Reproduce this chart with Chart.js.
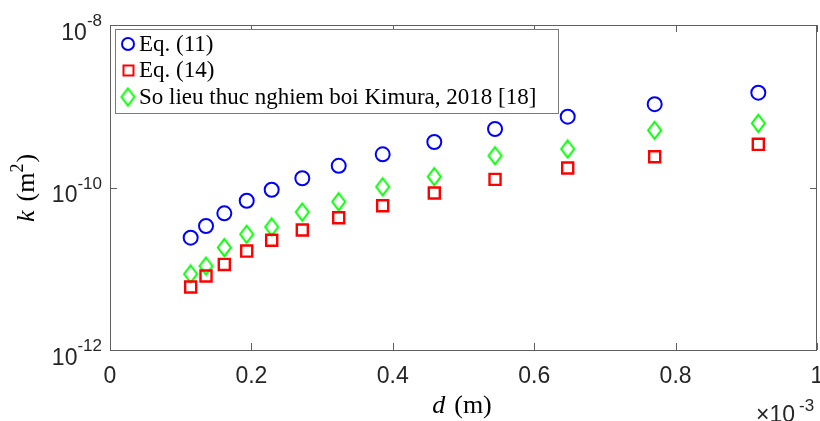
<!DOCTYPE html>
<html>
<head>
<meta charset="utf-8">
<script src="https://cdn.jsdelivr.net/npm/chart.js@4"></script>
<style>
  html, body { margin: 0; padding: 0; background: #fff; }
  #wrap { width: 820px; height: 421px; position: relative; }
</style>
</head>
<body>
<div id="wrap"><canvas id="c" width="820" height="421"></canvas></div>
<script>
// particle size d (m)
const dValues = [1.141e-4, 1.358e-4, 1.617e-4, 1.934e-4, 2.287e-4, 2.720e-4, 3.235e-4,
  3.857e-4, 4.587e-4, 5.446e-4, 6.474e-4, 7.704e-4, 9.170e-4];
// permeability k (m^2)
const kEq11 = [2.41e-11, 3.36e-11, 4.81e-11, 6.87e-11, 9.39e-11, 1.30e-10, 1.85e-10,
  2.56e-10, 3.63e-10, 5.25e-10, 7.44e-10, 1.06e-9, 1.47e-9];
const kEq14 = [5.96e-12, 8.14e-12, 1.13e-11, 1.65e-11, 2.24e-11, 3.00e-11, 4.25e-11,
  5.97e-11, 8.55e-11, 1.26e-10, 1.74e-10, 2.39e-10, 3.40e-10];
const kKimura = [8.62e-12, 1.08e-11, 1.82e-11, 2.66e-11, 3.27e-11, 4.99e-11, 6.68e-11,
  1.02e-10, 1.36e-10, 2.46e-10, 2.98e-10, 5.06e-10, 6.17e-10];

const seriesNames = ["Eq. (11)", "Eq. (14)", "So lieu thuc nghiem boi Kimura, 2018 [18]"];
const xTickVals = [0, 2e-4, 4e-4, 6e-4, 8e-4, 1e-3];
const xTickLabels = ["0", "0.2", "0.4", "0.6", "0.8", "1"];
const yTickVals = [1e-12, 1e-10, 1e-8];
const yTickExps = ["-12", "-10", "-8"];

const BLUE = "#0000ff", RED = "#ff0000", GREEN = "#00ff00";
const AXIS = "#5f5f5f", TXT = "#262626";
const SANS = "'Liberation Sans', Arial, sans-serif";
const SERIF = "'Liberation Serif', 'Times New Roman', serif";

function diamondCanvas(w, h, color, lw) {
  const cv = document.createElement("canvas");
  cv.width = w + 4; cv.height = h + 4;
  const g = cv.getContext("2d");
  g.strokeStyle = color; g.lineWidth = lw;
  const cx = cv.width / 2, cy = cv.height / 2;
  g.beginPath();
  g.moveTo(cx, cy - h / 2); g.lineTo(cx + w / 2, cy);
  g.lineTo(cx, cy + h / 2); g.lineTo(cx - w / 2, cy);
  g.closePath(); g.stroke();
  return cv;
}
const diamond = diamondCanvas(13, 17, GREEN, 2);

const pts = (ys) => dValues.map((d, i) => ({ x: d, y: ys[i] }));

const decor = {
  id: "decor",
  afterDraw(chart) {
    const ctx = chart.ctx, a = chart.chartArea;
    const xs = chart.scales.x, ys = chart.scales.y;
    ctx.save();
    // box
    ctx.strokeStyle = AXIS; ctx.lineWidth = 1;
    ctx.strokeRect(Math.round(a.left) + 0.5, Math.round(a.top) + 0.5,
      Math.round(a.right - a.left) - 1, Math.round(a.bottom - a.top));
    // ticks, inward on all four sides
    ctx.beginPath();
    xTickVals.forEach((v) => {
      const px = Math.round(xs.getPixelForValue(v)) + 0.5;
      ctx.moveTo(px, a.bottom); ctx.lineTo(px, a.bottom - 7);
      ctx.moveTo(px, a.top); ctx.lineTo(px, a.top + 7);
    });
    yTickVals.forEach((v) => {
      const py = Math.round(ys.getPixelForValue(v)) + 0.5;
      ctx.moveTo(a.left, py); ctx.lineTo(a.left + 7, py);
      ctx.moveTo(a.right, py); ctx.lineTo(a.right - 7, py);
    });
    ctx.stroke();

    // x tick labels
    ctx.fillStyle = TXT;
    ctx.font = "23px " + SANS;
    ctx.textAlign = "center"; ctx.textBaseline = "alphabetic";
    xTickVals.forEach((v, i) => {
      ctx.fillText(xTickLabels[i], xs.getPixelForValue(v), 383);
    });
    // y tick labels 10^n
    yTickVals.forEach((v, i) => {
      const py = ys.getPixelForValue(v);
      ctx.textAlign = "right";
      ctx.font = "17px " + SANS;
      const ew = ctx.measureText(yTickExps[i]).width;
      ctx.fillText(yTickExps[i], 102, py + 1);
      ctx.font = "23px " + SANS;
      ctx.fillText("10", 102 - ew, py + 14.5);
    });
    // x10^-3 multiplier
    ctx.textAlign = "left";
    ctx.font = "23px " + SANS;
    ctx.fillText("\u00d710", 756, 422);
    ctx.font = "17px " + SANS;
    ctx.fillText("-3", 799, 411);

    // x title: d (m)
    ctx.fillStyle = "#000";
    ctx.font = "italic 26px " + SERIF;
    const dw = ctx.measureText("d").width;
    ctx.font = "26px " + SERIF;
    const rw = ctx.measureText("(m)").width;
    const gap = 9;
    let x0 = 462 - (dw + gap + rw) / 2;
    ctx.font = "italic 26px " + SERIF;
    ctx.fillText("d", x0, 413);
    ctx.font = "26px " + SERIF;
    ctx.fillText("(m)", x0 + dw + gap, 413);

    // y title: k (m^2)
    ctx.save();
    ctx.translate(34, 188);
    ctx.rotate(-Math.PI / 2);
    ctx.font = "italic 26px " + SERIF;
    const kw = ctx.measureText("k").width;
    ctx.font = "26px " + SERIF;
    const mw = ctx.measureText("(m").width;
    const pw = ctx.measureText(")").width;
    ctx.font = "18px " + SERIF;
    const sw = ctx.measureText("2").width;
    const total = kw + gap + mw + sw + 1 + pw;
    let cx = -total / 2;
    ctx.font = "italic 26px " + SERIF;
    ctx.fillText("k", cx, 0); cx += kw + gap;
    ctx.font = "26px " + SERIF;
    ctx.fillText("(m", cx, 0); cx += mw;
    ctx.font = "18px " + SERIF;
    ctx.fillText("2", cx, -11); cx += sw + 1;
    ctx.font = "26px " + SERIF;
    ctx.fillText(")", cx, 0);
    ctx.restore();

    // legend
    ctx.fillStyle = "#fff";
    ctx.fillRect(115.5, 29.5, 443, 84);
    ctx.strokeStyle = "#7a7a7a"; ctx.lineWidth = 1;
    ctx.strokeRect(115.5, 29.5, 443, 84);
    const rows = [44, 70, 97];
    ctx.lineWidth = 2;
    ctx.strokeStyle = BLUE;
    ctx.beginPath(); ctx.arc(128, rows[0], 6, 0, Math.PI * 2); ctx.stroke();
    ctx.strokeStyle = RED;
    ctx.strokeRect(123.5, rows[1] - 4.5, 10, 10);
    ctx.drawImage(diamond, 128 - diamond.width / 2, rows[2] - diamond.height / 2);
    ctx.fillStyle = "#000";
    ctx.font = "23px " + SERIF;
    ctx.textAlign = "left"; ctx.textBaseline = "middle";
    seriesNames.forEach((n, i) => ctx.fillText(n, 139, rows[i] + 1));
    ctx.restore();
  },
};

new Chart(document.getElementById("c"), {
  type: "scatter",
  data: {
    datasets: [
      { label: seriesNames[0], data: pts(kEq11), pointStyle: "circle", pointRadius: 7,
        borderColor: BLUE, backgroundColor: "transparent", borderWidth: 2 },
      { label: seriesNames[1], data: pts(kEq14), pointStyle: "rect", pointRadius: 7.8,
        borderColor: RED, backgroundColor: "transparent", borderWidth: 2.4 },
      { label: seriesNames[2], data: pts(kKimura), pointStyle: diamond, pointRadius: 8,
        borderColor: GREEN, backgroundColor: "transparent", borderWidth: 2 },
    ],
  },
  options: {
    responsive: false,
    animation: false,
    layout: { autoPadding: false, padding: { top: 25, right: 3, left: 0, bottom: 0 } },
    plugins: { legend: { display: false }, tooltip: { enabled: false } },
    scales: {
      x: {
        type: "linear", min: 0, max: 1e-3,
        grid: { display: false }, border: { display: false },
        ticks: { display: false },
        afterFit: (s) => { s.height = 71; },
      },
      y: {
        type: "logarithmic", min: 1e-12, max: 1e-8,
        grid: { display: false }, border: { display: false },
        ticks: { display: false },
        afterFit: (s) => { s.width = 110; },
      },
    },
  },
  plugins: [decor],
});
</script>
</body>
</html>
